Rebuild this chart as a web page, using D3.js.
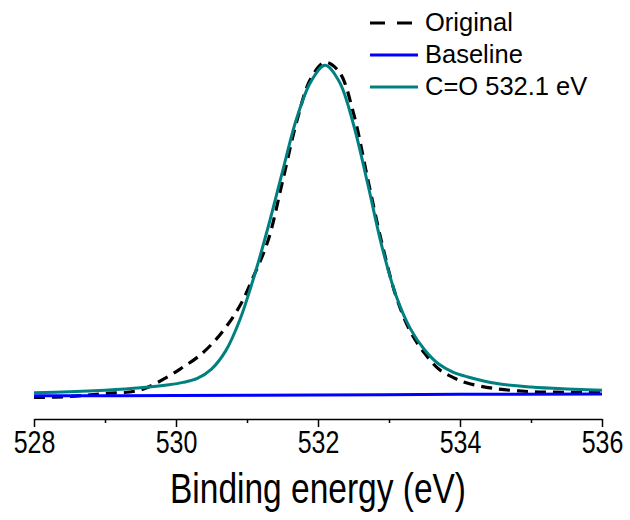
<!DOCTYPE html>
<html>
<head>
<meta charset="utf-8">
<script src="https://cdn.jsdelivr.net/npm/d3@7"></script>
<style>
  html, body { margin: 0; padding: 0; background: #fff; }
  svg { display: block; }
</style>
</head>
<body>
<svg id="chart" width="630" height="520"></svg>
<script>
// ---- data (binding energy in eV, intensity in arbitrary units) ----
const energy = [528.0, 528.5, 529.0, 529.5, 529.9, 530.1, 530.3, 530.5, 530.7, 530.9,
                531.1, 531.3, 531.5, 531.7, 531.9, 532.1, 532.3, 532.5, 532.7, 532.9,
                533.1, 533.3, 533.5, 533.7, 533.9, 534.1, 534.5, 535.0, 535.5, 536.0];
const original = [0.15, 0.45, 1.35, 2.4, 6.6, 9.3, 12.2, 16.1, 21.2, 27.7,
                  36.9, 47.5, 65.0, 83.0, 96.0, 100.8, 97.9, 85.5, 65.8, 46.5,
                  30.5, 20.0, 13.5, 8.7, 6.2, 4.5, 2.8, 1.9, 1.7, 1.6];
const fitCO = [1.54, 1.86, 2.36, 3.08, 3.98, 4.69, 5.90, 8.69, 14.15, 23.5,
               36.5, 51.5, 68.0, 84.0, 95.0, 99.9, 94.98, 82.13, 64.33, 45.54,
               30.71, 20.83, 14.5, 10.2, 7.8, 6.4, 4.4, 3.3, 2.7, 2.3];
const baseEnergy = [528, 530, 532, 534, 536];
const baseline = [0.65, 0.72, 0.9, 1.1, 1.2];
const majorTicks = [528, 530, 532, 534, 536];
const minorTicks = [529, 531, 533, 535];
const seriesNames = ["Original", "Baseline", "C=O 532.1 eV"];
const seriesColors = ["#000000", "#0000ff", "#008080"];
const xTitle = "Binding energy (eV)";

// ---- drawing ----
const svg = d3.select("#chart");
const x = d3.scaleLinear().domain([528, 536]).range([34, 602]);
const y = d3.scaleLinear().domain([0, 100]).range([398, 65]);
const font = "'Liberation Sans', Arial, sans-serif";

const line = d3.line().x(d => x(d[0])).y(d => y(d[1])).curve(d3.curveCatmullRom.alpha(0.5));
const zip = (a, b) => a.map((v, i) => [v, b[i]]);

svg.append("path").datum(zip(energy, original))
  .attr("d", line).attr("fill", "none")
  .attr("stroke", seriesColors[0]).attr("stroke-width", 3.2)
  .attr("stroke-dasharray", "11,7");
svg.append("path").datum(zip(baseEnergy, baseline))
  .attr("d", line).attr("fill", "none")
  .attr("stroke", seriesColors[1]).attr("stroke-width", 3);
svg.append("path").datum(zip(energy, fitCO))
  .attr("d", line).attr("fill", "none")
  .attr("stroke", seriesColors[2]).attr("stroke-width", 3);

// x axis
const axisY = 419;
const gx = svg.append("g").attr("transform", `translate(0,${axisY})`)
  .call(d3.axisBottom(x).tickValues(majorTicks).tickSize(8).tickSizeOuter(0)
        .tickFormat(d3.format("d")));
gx.select(".domain").attr("stroke-width", 1.5);
gx.selectAll(".tick line").attr("stroke-width", 1.5);
gx.selectAll(".tick text")
  .attr("font-family", font).attr("font-size", 25).attr("fill", "#000")
  .attr("y", 0).attr("dy", null)
  .attr("transform", "translate(0,34) scale(1,1.22)");
svg.append("g").attr("transform", `translate(0,${axisY})`)
  .call(d3.axisBottom(x).tickValues(minorTicks).tickSize(4).tickFormat(""))
  .call(g => g.select(".domain").remove())
  .selectAll(".tick line").attr("stroke-width", 1.5);

svg.append("text").attr("transform", "translate(318,503) scale(1,1.27)")
  .attr("text-anchor", "middle")
  .attr("font-family", font).attr("font-size", 33.5).attr("fill", "#000").text(xTitle);

// legend
const lg = svg.append("g");
const legY = [23, 55, 87];
seriesNames.forEach((name, i) => {
  const l = lg.append("line").attr("x1", 370).attr("x2", 418)
    .attr("y1", legY[i]).attr("y2", legY[i])
    .attr("stroke", seriesColors[i]).attr("stroke-width", 3);
  if (i === 0) l.attr("stroke-dasharray", "15,12");
  lg.append("text").attr("x", 425).attr("y", legY[i] + 8)
    .attr("font-family", font).attr("font-size", 25.5).attr("fill", "#000").text(name);
});
</script>
</body>
</html>
